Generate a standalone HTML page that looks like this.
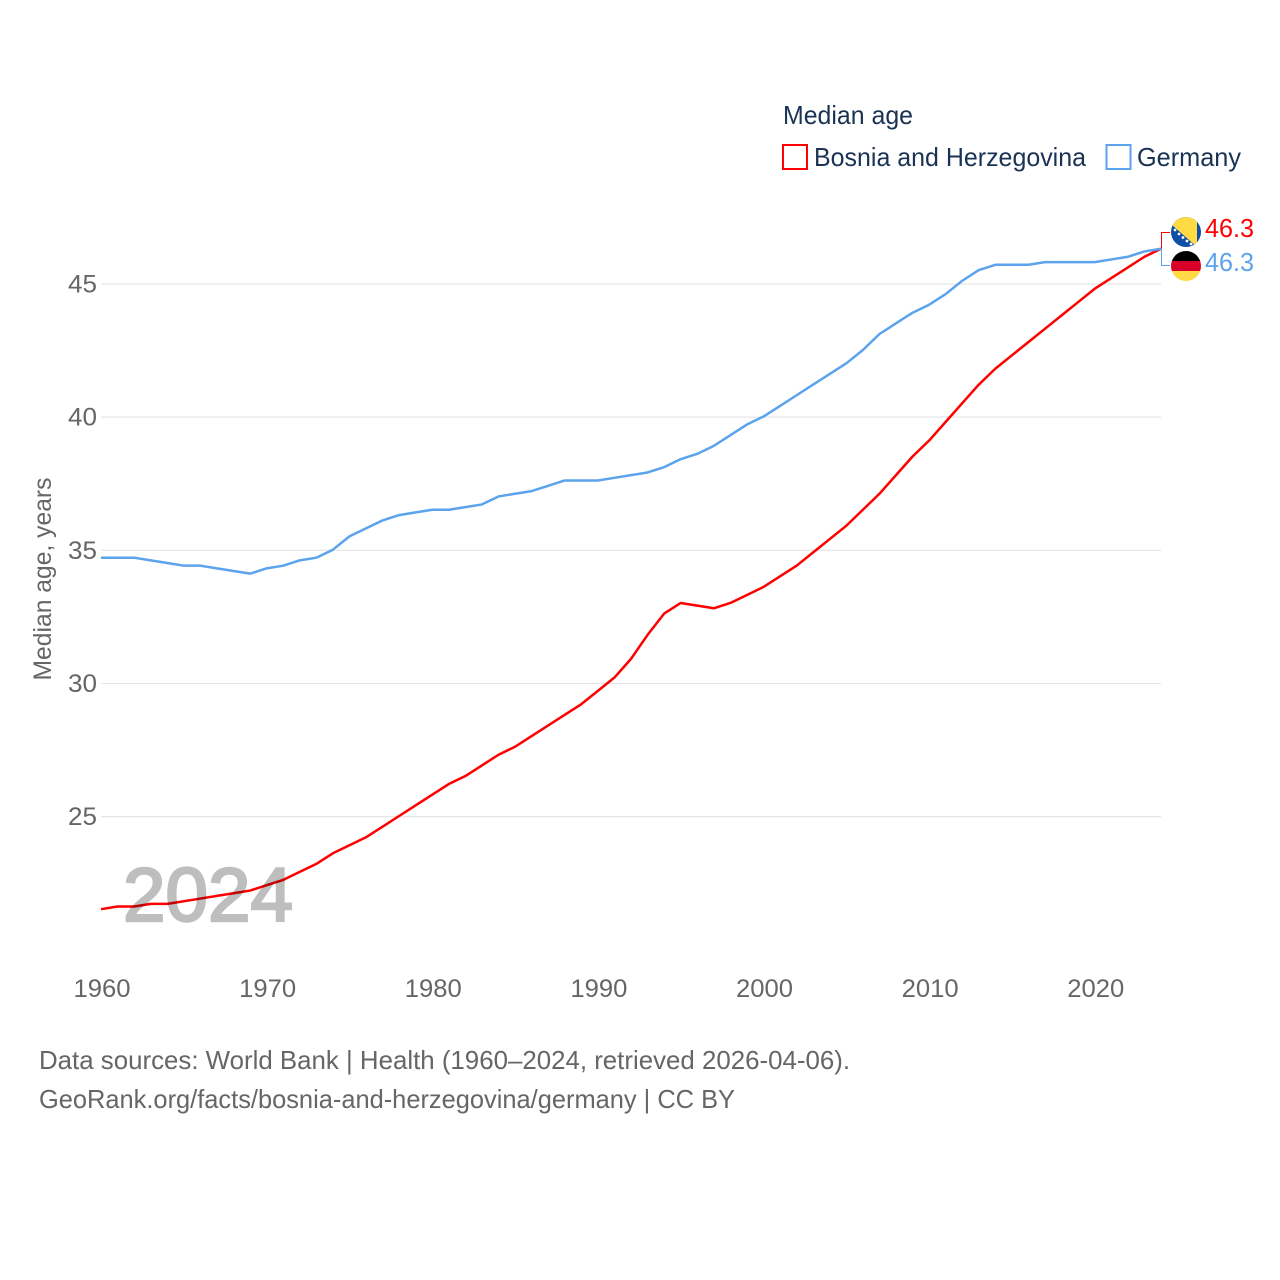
<!DOCTYPE html>
<html lang="en">
<head>
<meta charset="utf-8">
<title>Median age: Bosnia and Herzegovina vs Germany</title>
<style>
html,body{margin:0;padding:0;background:#fff;width:1280px;height:1280px;overflow:hidden}
svg{display:block;font-family:"Liberation Sans",sans-serif}
</style>
</head>
<body>
<svg id="chart" width="1280" height="1280" viewBox="0 0 1280 1280" xmlns="http://www.w3.org/2000/svg">
  <defs>
    <clipPath id="flag-clip-ba"><circle cx="1186" cy="232" r="15"/></clipPath>
    <clipPath id="flag-clip-de"><circle cx="1186" cy="266" r="15"/></clipPath>
  </defs>
  <rect width="1280" height="1280" fill="#fff"/>
  <g id="grid"></g>
  <g id="yticks"></g>
  <g id="xticks"></g>
  <text transform="translate(51,579) rotate(-90)" text-anchor="middle" font-size="25" fill="#666" textLength="203" lengthAdjust="spacingAndGlyphs">Median age, years</text>
  <g id="series"></g>
  <text x="123" y="921" font-size="76" fill="#000" stroke="#000" stroke-width="2.5" opacity="0.25" textLength="170" lengthAdjust="spacingAndGlyphs">2024</text>
  <g id="endmarks"></g>
  <g clip-path="url(#flag-clip-ba)">
    <rect x="1171" y="217" width="30" height="30" fill="#0d4ea6"/>
    <polygon points="1164,218 1164,217 1197,217 1197,247" fill="#ffda44"/>
    <g fill="#fff">
      <circle cx="1175" cy="230" r="1.4"/><circle cx="1179" cy="234" r="1.4"/><circle cx="1183" cy="237.500" r="1.4"/><circle cx="1187" cy="241" r="1.4"/><circle cx="1191" cy="244" r="1.4"/>
    </g>
  </g>
  <g clip-path="url(#flag-clip-de)">
    <rect x="1171" y="251" width="30" height="10" fill="#000"/>
    <rect x="1171" y="261" width="30" height="10" fill="#d80027"/>
    <rect x="1171" y="271" width="30" height="10" fill="#ffda44"/>
  </g>
  <g>
    <text x="783" y="124" font-size="26" fill="#1a3355" textLength="130" lengthAdjust="spacingAndGlyphs">Median age</text>
    <rect x="783" y="145" width="24" height="24" fill="none" stroke="#ff0000" stroke-width="2"/>
    <text x="814" y="166" font-size="26" fill="#1a3355" textLength="272" lengthAdjust="spacingAndGlyphs">Bosnia and Herzegovina</text>
    <rect x="1106.500" y="145" width="24" height="24" fill="none" stroke="#5ba3ec" stroke-width="2"/>
    <text x="1137" y="166" font-size="26" fill="#1a3355" textLength="104" lengthAdjust="spacingAndGlyphs">Germany</text>
  </g>
  <text x="39" y="1069" font-size="26" fill="#666" textLength="811" lengthAdjust="spacingAndGlyphs">Data sources: World Bank | Health (1960–2024, retrieved 2026-04-06).</text>
  <text x="39" y="1108" font-size="26" fill="#666" textLength="696" lengthAdjust="spacingAndGlyphs">GeoRank.org/facts/bosnia-and-herzegovina/germany | CC BY</text>
</svg>
<script>
var startYear = 1960;
var bosnia = [21.5,21.6,21.6,21.7,21.7,21.8,21.9,22.0,22.1,22.2,22.4,22.6,22.9,23.2,23.6,23.9,24.2,24.6,25.0,25.4,25.8,26.2,26.5,26.9,27.3,27.6,28.0,28.4,28.8,29.2,29.7,30.2,30.9,31.8,32.6,33.0,32.9,32.8,33.0,33.3,33.6,34.0,34.4,34.9,35.4,35.9,36.5,37.1,37.8,38.5,39.1,39.8,40.5,41.2,41.8,42.3,42.8,43.3,43.8,44.3,44.8,45.2,45.6,46.0,46.3];
var germany = [34.7,34.7,34.7,34.6,34.5,34.4,34.4,34.3,34.2,34.1,34.3,34.4,34.6,34.7,35.0,35.5,35.8,36.1,36.3,36.4,36.5,36.5,36.6,36.7,37.0,37.1,37.2,37.4,37.6,37.6,37.6,37.7,37.8,37.9,38.1,38.4,38.6,38.9,39.3,39.7,40.0,40.4,40.8,41.2,41.6,42.0,42.5,43.1,43.5,43.9,44.2,44.6,45.1,45.5,45.7,45.7,45.7,45.8,45.8,45.8,45.8,45.9,46.0,46.2,46.3];
var yTicks = [25,30,35,40,45];
var xTicks = [1960,1970,1980,1990,2000,2010,2020];

var NS = 'http://www.w3.org/2000/svg';
function xScale(year){ return 101 + (year - 1960) * 16.5625; }
function yScale(v){ return 283.4 + (45 - v) * 26.63; }
function make(tag, parent, attrs){
  var el = document.createElementNS(NS, tag);
  for (var k in attrs) el.setAttribute(k, attrs[k]);
  parent.appendChild(el);
  return el;
}
var grid = document.getElementById('grid');
var yG = document.getElementById('yticks');
var xG = document.getElementById('xticks');
var seriesG = document.getElementById('series');
var endG = document.getElementById('endmarks');

yTicks.forEach(function(t){
  var line = make('line', grid, {x1:101, x2:1161, y1:yScale(t)+0.6, y2:yScale(t)+0.6, stroke:'#e6e6e6', 'stroke-width':1.2});
  
  
  var lab = make('text', yG, {x:97, y:yScale(t)+9.1, 'text-anchor':'end', 'font-size':25, fill:'#666', textLength:29, lengthAdjust:'spacingAndGlyphs'});
  
  
  lab.textContent = t;
});
xTicks.forEach(function(t){
  var lab = make('text', xG, {x:xScale(t)+1, y:997, 'text-anchor':'middle', 'font-size':25, fill:'#666', textLength:57, lengthAdjust:'spacingAndGlyphs'});
  
  
  lab.textContent = t;
});
function linePoints(arr){
  return arr.map(function(v,i){ return xScale(startYear+i).toFixed(2)+','+yScale(v).toFixed(2); }).join(' ');
}
var bosniaLine = make('polyline', seriesG, {points:linePoints(bosnia), fill:'none', stroke:'#ff0000', 'stroke-width':2.5, 'stroke-linejoin':'round'});


var germanyLine = make('polyline', seriesG, {points:linePoints(germany), fill:'none', stroke:'#5ba3ec', 'stroke-width':2.5, 'stroke-linejoin':'round'});



var endX = xScale(startYear + bosnia.length - 1) + 0.5;
var bosniaLast = bosnia[bosnia.length-1];
var germanyLast = germany[germany.length-1];
var conA = make('polyline', endG, {points:endX+','+yScale(bosniaLast)+' '+endX+',232.5 1170,232.5', fill:'none', stroke:'#ff0000', 'stroke-width':1});


var conB = make('polyline', endG, {points:endX+','+yScale(germanyLast)+' '+endX+',265.5 1170,265.5', fill:'none', stroke:'#5ba3ec', 'stroke-width':1});


var valA = make('text', endG, {x:1205, y:237, 'font-size':26, fill:'#ff0000', textLength:49, lengthAdjust:'spacingAndGlyphs'});


valA.textContent = bosniaLast.toFixed(1);
var valB = make('text', endG, {x:1205, y:271, 'font-size':26, fill:'#5ba3ec', textLength:49, lengthAdjust:'spacingAndGlyphs'});


valB.textContent = germanyLast.toFixed(1);
</script>
</body>
</html>
